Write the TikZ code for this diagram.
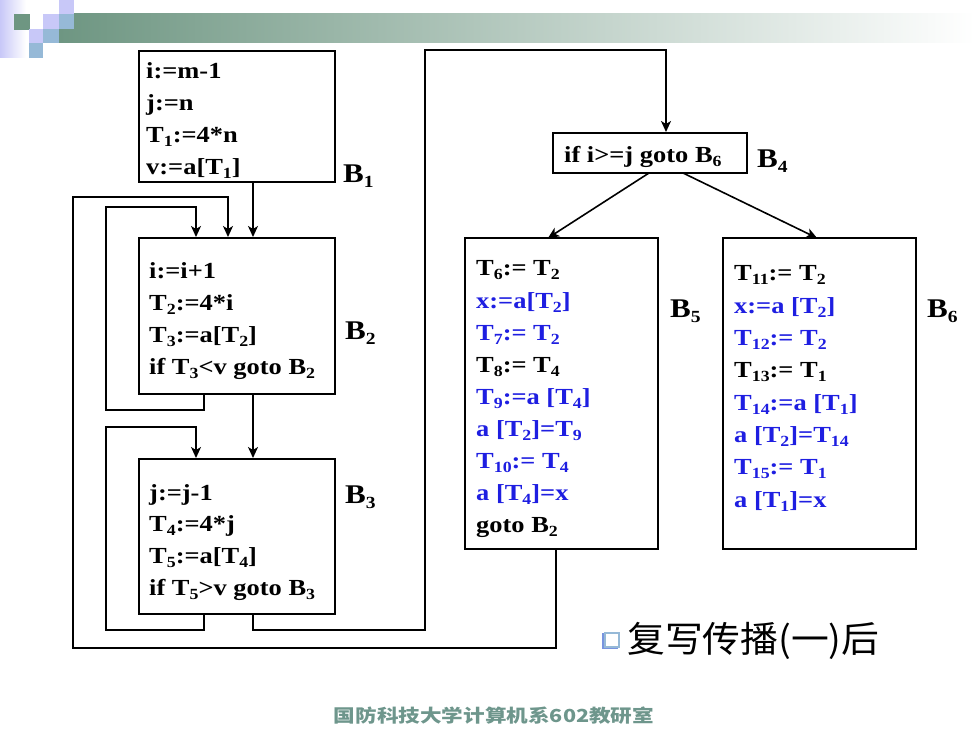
\documentclass[tikz,border=0pt]{standalone}
\usepackage{fontspec}
\setmainfont{Liberation Serif}
\newfontfamily\cjk{Noto Sans CJK SC}
\usetikzlibrary{arrows.meta}
\definecolor{blu}{RGB}{30,30,225}
\definecolor{bargreen}{RGB}{110,150,130}
\definecolor{lav}{RGB}{200,200,248}
\definecolor{lblue}{RGB}{150,185,215}
\definecolor{foot}{RGB}{110,150,140}
\newcommand\sbs[1]{\raisebox{-4pt}{\fontsize{15.5}{15.5}\selectfont #1}}
\newcommand\lsb[1]{\raisebox{-5pt}{\fontsize{17}{17}\selectfont #1}}
\newcommand\codelines[2][32]{\scalebox{1.15}[1]{\fontsize{23}{#1}\selectfont\bfseries\begin{tabular}[t]{@{}l@{}}#2\end{tabular}}}
\newcommand\lab[1]{\scalebox{1.15}[1]{\fontsize{27}{27}\selectfont\bfseries #1}}
\tikzset{
  blk/.style={draw, line width=2pt, inner sep=0pt, fill=white},
  txt/.style={anchor=base west, inner sep=0pt},
  arr/.style={line width=1.6pt, -{Stealth[length=11pt,width=10pt,inset=3pt]}},
  ln/.style={line width=1.6pt}
}
\begin{document}
\begin{tikzpicture}[x=1pt,y=-1pt]
\useasboundingbox (0,0) rectangle (980,735);
\fill[white] (0,0) rectangle (980,735);
% title decoration
\shade[left color=lav, right color=white] (0,0) rectangle (26,58);
\shade[left color=bargreen, right color=white] (59,14) rectangle (975,43);
\fill[bargreen] (14,14) rectangle (30,30);
\fill[lav] (43,14) rectangle (59,29);
\fill[lav] (59,0) rectangle (74,14);
\fill[lblue] (59,14) rectangle (74,29);
\fill[lav] (29,29) rectangle (43,43);
\fill[lblue] (43,29) rectangle (59,43);
\fill[lblue] (29,43) rectangle (43,58);
% x positions
\coordinate (xin) at (196,0);
\coordinate (xout) at (204,0);
\coordinate (xmain) at (253,0);
\coordinate (xb5in) at (228,0);
\coordinate (xb4) at (666,0);
\coordinate (xb5out) at (556,0);
% blocks
\node[blk, minimum width=196pt, minimum height=131pt] (b1) at (237,116.5) {};
\node[blk, minimum width=196pt, minimum height=156pt] (b2) at (237,316) {};
\node[blk, minimum width=196pt, minimum height=155pt] (b3) at (237,536.5) {};
\node[blk, minimum width=194pt, minimum height=40pt] (b4) at (650,153) {};
\node[blk, minimum width=193pt, minimum height=311pt] (b5) at (561.5,393.5) {};
\node[blk, minimum width=193pt, minimum height=311pt] (b6) at (819.5,393.5) {};
% texts
\node[txt] (t1) at (146,79) {\codelines[31.7]{i:=m-1\\ j:=n\\ T\sbs{1}:=4*n\\ v:=a[T\sbs{1}]}};
\node[txt] (t2) at (149,279) {\codelines[32]{i:=i+1\\ T\sbs{2}:=4*i\\ T\sbs{3}:=a[T\sbs{2}]\\ if T\sbs{3}<v goto B\sbs{2}}};
\node[txt] (t3) at (149,500) {\codelines[31.7]{j:=j-1\\ T\sbs{4}:=4*j\\ T\sbs{5}:=a[T\sbs{4}]\\ if T\sbs{5}>v goto B\sbs{3}}};
\node[txt] (t4) at (564,163) {\codelines{if i>=j goto B\sbs{6}}};
\node[txt] (t5) at (476,276) {\codelines[32.1]{T\sbs{6}:= T\sbs{2}\\
 \color{blu}x:=a[T\sbs{2}]\\
 \color{blu}T\sbs{7}:= T\sbs{2}\\
 T\sbs{8}:= T\sbs{4}\\
 \color{blu}T\sbs{9}:=a [T\sbs{4}]\\
 \color{blu}a [T\sbs{2}]=T\sbs{9}\\
 \color{blu}T\sbs{10}:= T\sbs{4}\\
 \color{blu}a [T\sbs{4}]=x\\
 goto B\sbs{2}}};
\node[txt] (t6) at (734,281) {\codelines[32.3]{T\sbs{11}:= T\sbs{2}\\
 \color{blu}x:=a [T\sbs{2}]\\
 \color{blu}T\sbs{12}:= T\sbs{2}\\
 T\sbs{13}:= T\sbs{1}\\
 \color{blu}T\sbs{14}:=a [T\sbs{1}]\\
 \color{blu}a [T\sbs{2}]=T\sbs{14}\\
 \color{blu}T\sbs{15}:= T\sbs{1}\\
 \color{blu}a [T\sbs{1}]=x}};
% labels
\node[txt] (l1) at (343,183) {\lab{B\lsb{1}}};
\node[txt] (l2) at (345,340) {\lab{B\lsb{2}}};
\node[txt] (l3) at (345,503) {\lab{B\lsb{3}}};
\node[txt] (l4) at (757,168) {\lab{B\lsb{4}}};
\node[txt] (l5) at (670,318) {\lab{B\lsb{5}}};
\node[txt] (l6) at (927,318) {\lab{B\lsb{6}}};
% connectors
\draw[arr] (b1.south -| xmain) -- (b2.north -| xmain);
\draw[arr] (b2.south -| xout) |- (106,410) |- (196,207) -- (b2.north -| xin);
\draw[arr] (b5.south -| xb5out) |- (73,648) |- (228,197) -- (b2.north -| xb5in);
\draw[arr] (b2.south -| xmain) -- (b3.north -| xmain);
\draw[arr] (b3.south -| xout) |- (106,630) |- (196,427) -- (b3.north -| xin);
\draw[arr] (b3.south -| xmain) |- (425,630) |- (666,50) -- (b4.north -| xb4);
\draw[arr] (649,173) -- (548,238);
\draw[arr] (683,173) -- (817,238);
% bullet text
\fill[lblue!80!blue] (602,633) rectangle (618,649);
\node[draw=lblue, line width=1.5pt, fill=white, minimum size=14pt, inner sep=0pt] (bul) at (612,640) {};
\node[txt] (cap) at (627,652) {\scalebox{1.05}[1]{\fontsize{36}{36}\selectfont\cjk 复写传播(一)后}};
% footer
\node[inner sep=0pt, text=foot] (foot) at (494,716) {\scalebox{1.2}[1]{\fontsize{18}{18}\selectfont\cjk\bfseries 国防科技大学计算机系602教研室}};
\end{tikzpicture}
\end{document}
